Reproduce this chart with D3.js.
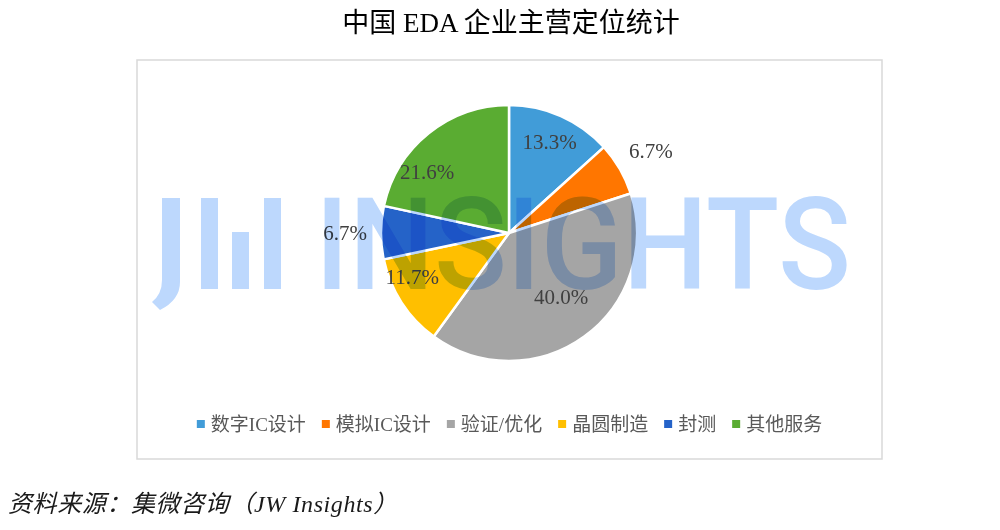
<!DOCTYPE html>
<html>
<head>
<meta charset="utf-8">
<script src="https://cdn.jsdelivr.net/npm/d3@7"></script>
<style>
  html, body { margin: 0; padding: 0; background: #fff; }
  svg { display: block; }
</style>
</head>
<body>
<svg id="chart"></svg>
<script>
const categories = ['数字IC设计', '模拟IC设计', '验证/优化', '晶圆制造', '封测', '其他服务'];
const shares = [13.3, 6.7, 40.0, 11.7, 6.7, 21.6];
const colors = ['#419cd8', '#ff7600', '#a5a5a5', '#ffbf00', '#2563c8', '#5aac32'];
const title = '中国 EDA 企业主营定位统计';
const source = '资料来源：集微咨询（JW Insights）';

const width = 1000, height = 530;
const svg = d3.select('#chart').attr('width', width).attr('height', height);

const box = { x: 137, y: 60, w: 745, h: 399 };
const cx = 509, cy = 233, radius = 128;
// label distance from centre, as a fraction of the radius (small slices sit outside)
const labelRadius = [0.78, 1.28, 0.64, 0.83, 1.28, 0.8];
const labelTurn = [0, 0, -0.06, 0.15, 0, -0.25];

svg.append('text')
  .attr('x', 511).attr('y', 32)
  .attr('text-anchor', 'middle')
  .style('font-family', '"Liberation Serif", "Noto Sans CJK SC"')
  .style('font-size', '27px')
  .style('fill', '#000')
  .text(title);

svg.append('rect')
  .attr('x', box.x).attr('y', box.y)
  .attr('width', box.w).attr('height', box.h)
  .attr('fill', '#fff')
  .attr('stroke', '#d9d9d9')
  .attr('stroke-width', 1.5);

const pie = d3.pie().sort(null).value(d => d);
const arcs = pie(shares);
const arc = d3.arc().innerRadius(0).outerRadius(radius);

const chartRoot = svg.append('g').attr('transform', `translate(${cx}, ${cy})`);

chartRoot.selectAll('path.slice')
  .data(arcs)
  .enter()
  .append('path')
  .attr('class', 'slice')
  .attr('d', arc)
  .attr('fill', (_, i) => colors[i])
  .attr('stroke', '#fff')
  .attr('stroke-width', 2.5)
  .attr('stroke-linejoin', 'round');

// watermark, multiplied over the pie
const wm = svg.append('g')
  .attr('transform', 'translate(152, 198)')
  .style('mix-blend-mode', 'multiply')
  .attr('fill', '#bdd8fd');
wm.append('path').attr('d', 'M10 0 H28 V84 Q28 102 8 112 L0 104 Q10 96 10 82 Z');
[[49, 0], [80, 34], [112, 0]].forEach(([x, y]) => {
  wm.append('rect').attr('x', x).attr('y', y).attr('width', 17).attr('height', 91 - y);
});
wm.append('text')
  .attr('x', 163).attr('y', 91)
  .attr('textLength', 536)
  .attr('lengthAdjust', 'spacingAndGlyphs')
  .style('font-family', 'Roboto')
  .style('font-weight', 500)
  .style('font-size', '128px')
  .text('INSIGHTS');

chartRoot.selectAll('text.label')
  .data(arcs)
  .enter()
  .append('text')
  .attr('class', 'label')
  .attr('transform', (d, i) => {
    const a = (d.startAngle + d.endAngle) / 2 + labelTurn[i];
    const r = radius * labelRadius[i];
    return `translate(${r * Math.sin(a)}, ${-r * Math.cos(a)})`;
  })
  .attr('text-anchor', 'middle')
  .attr('dy', '0.35em')
  .style('font-family', '"Liberation Serif", "Noto Sans CJK SC"')
  .style('font-size', '21px')
  .style('fill', '#404040')
  .text(d => `${d.value.toFixed(1)}%`);

// legend, centred in the box
const legend = svg.append('g').attr('transform', `translate(0, 424)`);
const items = legend.selectAll('g.item')
  .data(categories)
  .enter()
  .append('g')
  .attr('class', 'item');
items.append('rect')
  .attr('y', -4).attr('width', 8).attr('height', 8)
  .attr('fill', (_, i) => colors[i]);
items.append('text')
  .attr('x', 14).attr('dy', '0.35em')
  .style('font-family', '"Liberation Serif", "Noto Sans CJK SC"')
  .style('font-size', '19px')
  .style('fill', '#595959')
  .text(d => d);

const gap = 16;
const widths = items.nodes().map(n => 14 + n.querySelector('text').getComputedTextLength());
const total = d3.sum(widths) + gap * (widths.length - 1);
let x0 = box.x + box.w / 2 - total / 2;
items.attr('transform', (_, i) => {
  const x = x0;
  x0 += widths[i] + gap;
  return `translate(${x}, 0)`;
});

svg.append('text')
  .attr('x', 8).attr('y', 512)
  .style('font-family', '"Liberation Serif", "Noto Sans CJK SC"')
  .style('font-style', 'italic')
  .style('font-size', '24px')
  .style('letter-spacing', '0.6px')
  .style('fill', '#1a1a1a')
  .text(source);
</script>
</body>
</html>
